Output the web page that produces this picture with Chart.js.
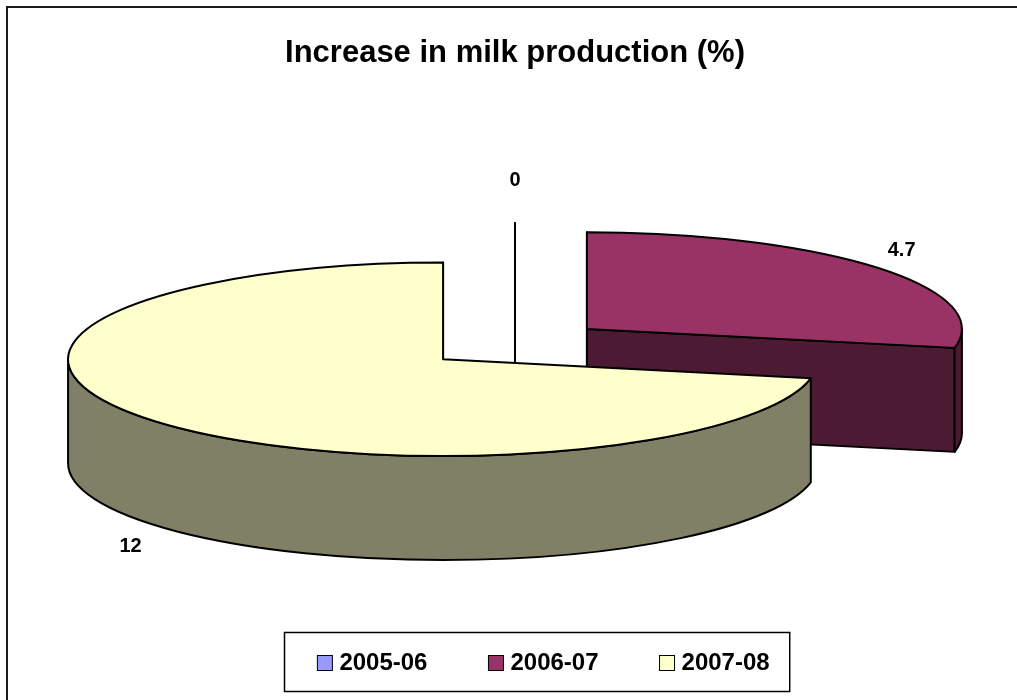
<!DOCTYPE html>
<html>
<head>
<meta charset="utf-8">
<title>Increase in milk production (%)</title>
<script src="https://cdn.jsdelivr.net/npm/chart.js@4.4.1/dist/chart.umd.min.js"></script>
<style>
  html, body { margin: 0; padding: 0; background: #fff; }
  canvas { display: block; }
</style>
</head>
<body>
<canvas id="chart" width="1017" height="700"></canvas>
<script>
const years = ['2005-06', '2006-07', '2007-08'];
const increase = [0, 4.7, 12];
const topColors = ['#9999FF', '#993366', '#FFFFCC'];
const sideColors = ['#4D4D80', '#4D1A33', '#808066'];

const FONT = '"Liberation Sans", Arial, Helvetica, sans-serif';

// 3D look: tilt of the disc, wall height, how far each slice is pulled out
const TILT = 0.258;
const DEPTH = 104;
const EXPLODE = 93;

// turn the pie's arc elements into tilted, exploded slices
function slices(chart) {
  const meta = chart.getDatasetMeta(0);
  const midY = (chart.chartArea.top + chart.chartArea.bottom) / 2;
  return meta.data.map((arc, i) => {
    const p = arc.getProps(['x', 'y', 'startAngle', 'endAngle', 'outerRadius'], true);
    const mid = (p.startAngle + p.endAngle) / 2;
    return {
      i,
      s: p.startAngle,
      e: p.endAngle,
      mid,
      r: p.outerRadius,
      ry: p.outerRadius * TILT,
      cx: p.x + Math.cos(mid) * EXPLODE,
      cy: midY + (p.y - midY + Math.sin(mid) * EXPLODE) * TILT
    };
  });
}

function radialWall(ctx, p, a) {
  const x = p.cx + p.r * Math.cos(a);
  const y = p.cy + p.ry * Math.sin(a);
  ctx.beginPath();
  ctx.moveTo(p.cx, p.cy);
  ctx.lineTo(x, y);
  ctx.lineTo(x, y + DEPTH);
  ctx.lineTo(p.cx, p.cy + DEPTH);
  ctx.closePath();
  ctx.fill();
  ctx.stroke();
}

const pie3d = {
  id: 'pie3d',
  beforeDatasetsDraw(chart) {
    const ctx = chart.ctx;
    const list = slices(chart).sort((a, b) => a.cy - b.cy);
    const eps = 1e-6;
    ctx.save();
    ctx.lineWidth = 2;
    ctx.strokeStyle = '#000';
    ctx.lineJoin = 'round';

    // walls, back to front
    list.forEach(p => {
      ctx.fillStyle = sideColors[p.i];
      if (Math.cos(p.s) <= eps) radialWall(ctx, p, p.s);
      if (Math.cos(p.e) >= -eps) radialWall(ctx, p, p.e);
      const a0 = Math.max(p.s, 0);
      const a1 = Math.min(p.e, Math.PI);
      if (a1 > a0) {
        ctx.beginPath();
        ctx.ellipse(p.cx, p.cy, p.r, p.ry, 0, a0, a1);
        ctx.ellipse(p.cx, p.cy + DEPTH, p.r, p.ry, 0, a1, a0, true);
        ctx.closePath();
        ctx.fill();
        ctx.stroke();
      }
    });

    // top faces
    list.forEach(p => {
      ctx.fillStyle = topColors[p.i];
      ctx.beginPath();
      ctx.moveTo(p.cx, p.cy);
      ctx.ellipse(p.cx, p.cy, p.r, p.ry, 0, p.s, p.e);
      ctx.closePath();
      if (p.e > p.s) ctx.fill();
      ctx.stroke();
    });

    // value labels outside the rim
    ctx.fillStyle = '#000';
    ctx.font = `bold 20px ${FONT}`;
    ctx.textAlign = 'center';
    ctx.textBaseline = 'middle';
    list.forEach(p => {
      const c = Math.cos(p.mid), s = Math.sin(p.mid);
      const rx = p.cx + p.r * c;
      const ry = p.cy + p.ry * s + (s > 0 ? DEPTH : 0);
      const text = String(increase[p.i]);
      const w = ctx.measureText(text).width;
      const gap = 18 + 17 * Math.pow(s, 4);
      ctx.fillText(text, rx + c * (18 + w / 2), ry + s * (gap + 10) + 2);
    });
    ctx.restore();
    return false;
  }
};

const legendBox = {
  id: 'legendBox',
  afterDraw(chart) {
    const ctx = chart.ctx;
    ctx.save();
    // outer frame
    ctx.strokeStyle = '#1a1a1a';
    ctx.lineWidth = 2;
    ctx.strokeRect(7, 7, 1100, 800);

    ctx.font = `bold 24px ${FONT}`;
    const widths = years.map(t => ctx.measureText(t).width);
    const items = widths.map(w => 15 + 7 + w);
    const total = items.reduce((a, b) => a + b, 0) + 61 * (years.length - 1);
    let x = 543.5 - total / 2;

    ctx.lineWidth = 1.5;
    ctx.strokeStyle = '#000';
    ctx.strokeRect(Math.round(x - 33) + 0.5, 632.5, total + 53, 59);

    ctx.textAlign = 'left';
    ctx.textBaseline = 'alphabetic';
    years.forEach((t, i) => {
      ctx.fillStyle = topColors[i];
      ctx.fillRect(x, 655.5, 15, 15);
      ctx.lineWidth = 1;
      ctx.strokeRect(x, 655.5, 15, 15);
      ctx.fillStyle = '#000';
      ctx.fillText(t, x + 22, 670);
      x += items[i] + 61;
    });
    ctx.restore();
  }
};

new Chart(document.getElementById('chart'), {
  type: 'pie',
  data: {
    labels: years,
    datasets: [{
      data: increase,
      backgroundColor: topColors,
      borderColor: '#000',
      borderWidth: 2,
      radius: 375
    }]
  },
  options: {
    responsive: false,
    animation: false,
    layout: { padding: { left: 13, right: 0, top: 0, bottom: 92 } },
    plugins: {
      legend: { display: false },
      tooltip: { enabled: false },
      title: {
        display: true,
        text: 'Increase in milk production (%)',
        color: '#000',
        font: { family: FONT, size: 31, weight: 'bold' },
        padding: { top: 35, bottom: 8 }
      }
    }
  },
  plugins: [pie3d, legendBox]
});
</script>
</body>
</html>
